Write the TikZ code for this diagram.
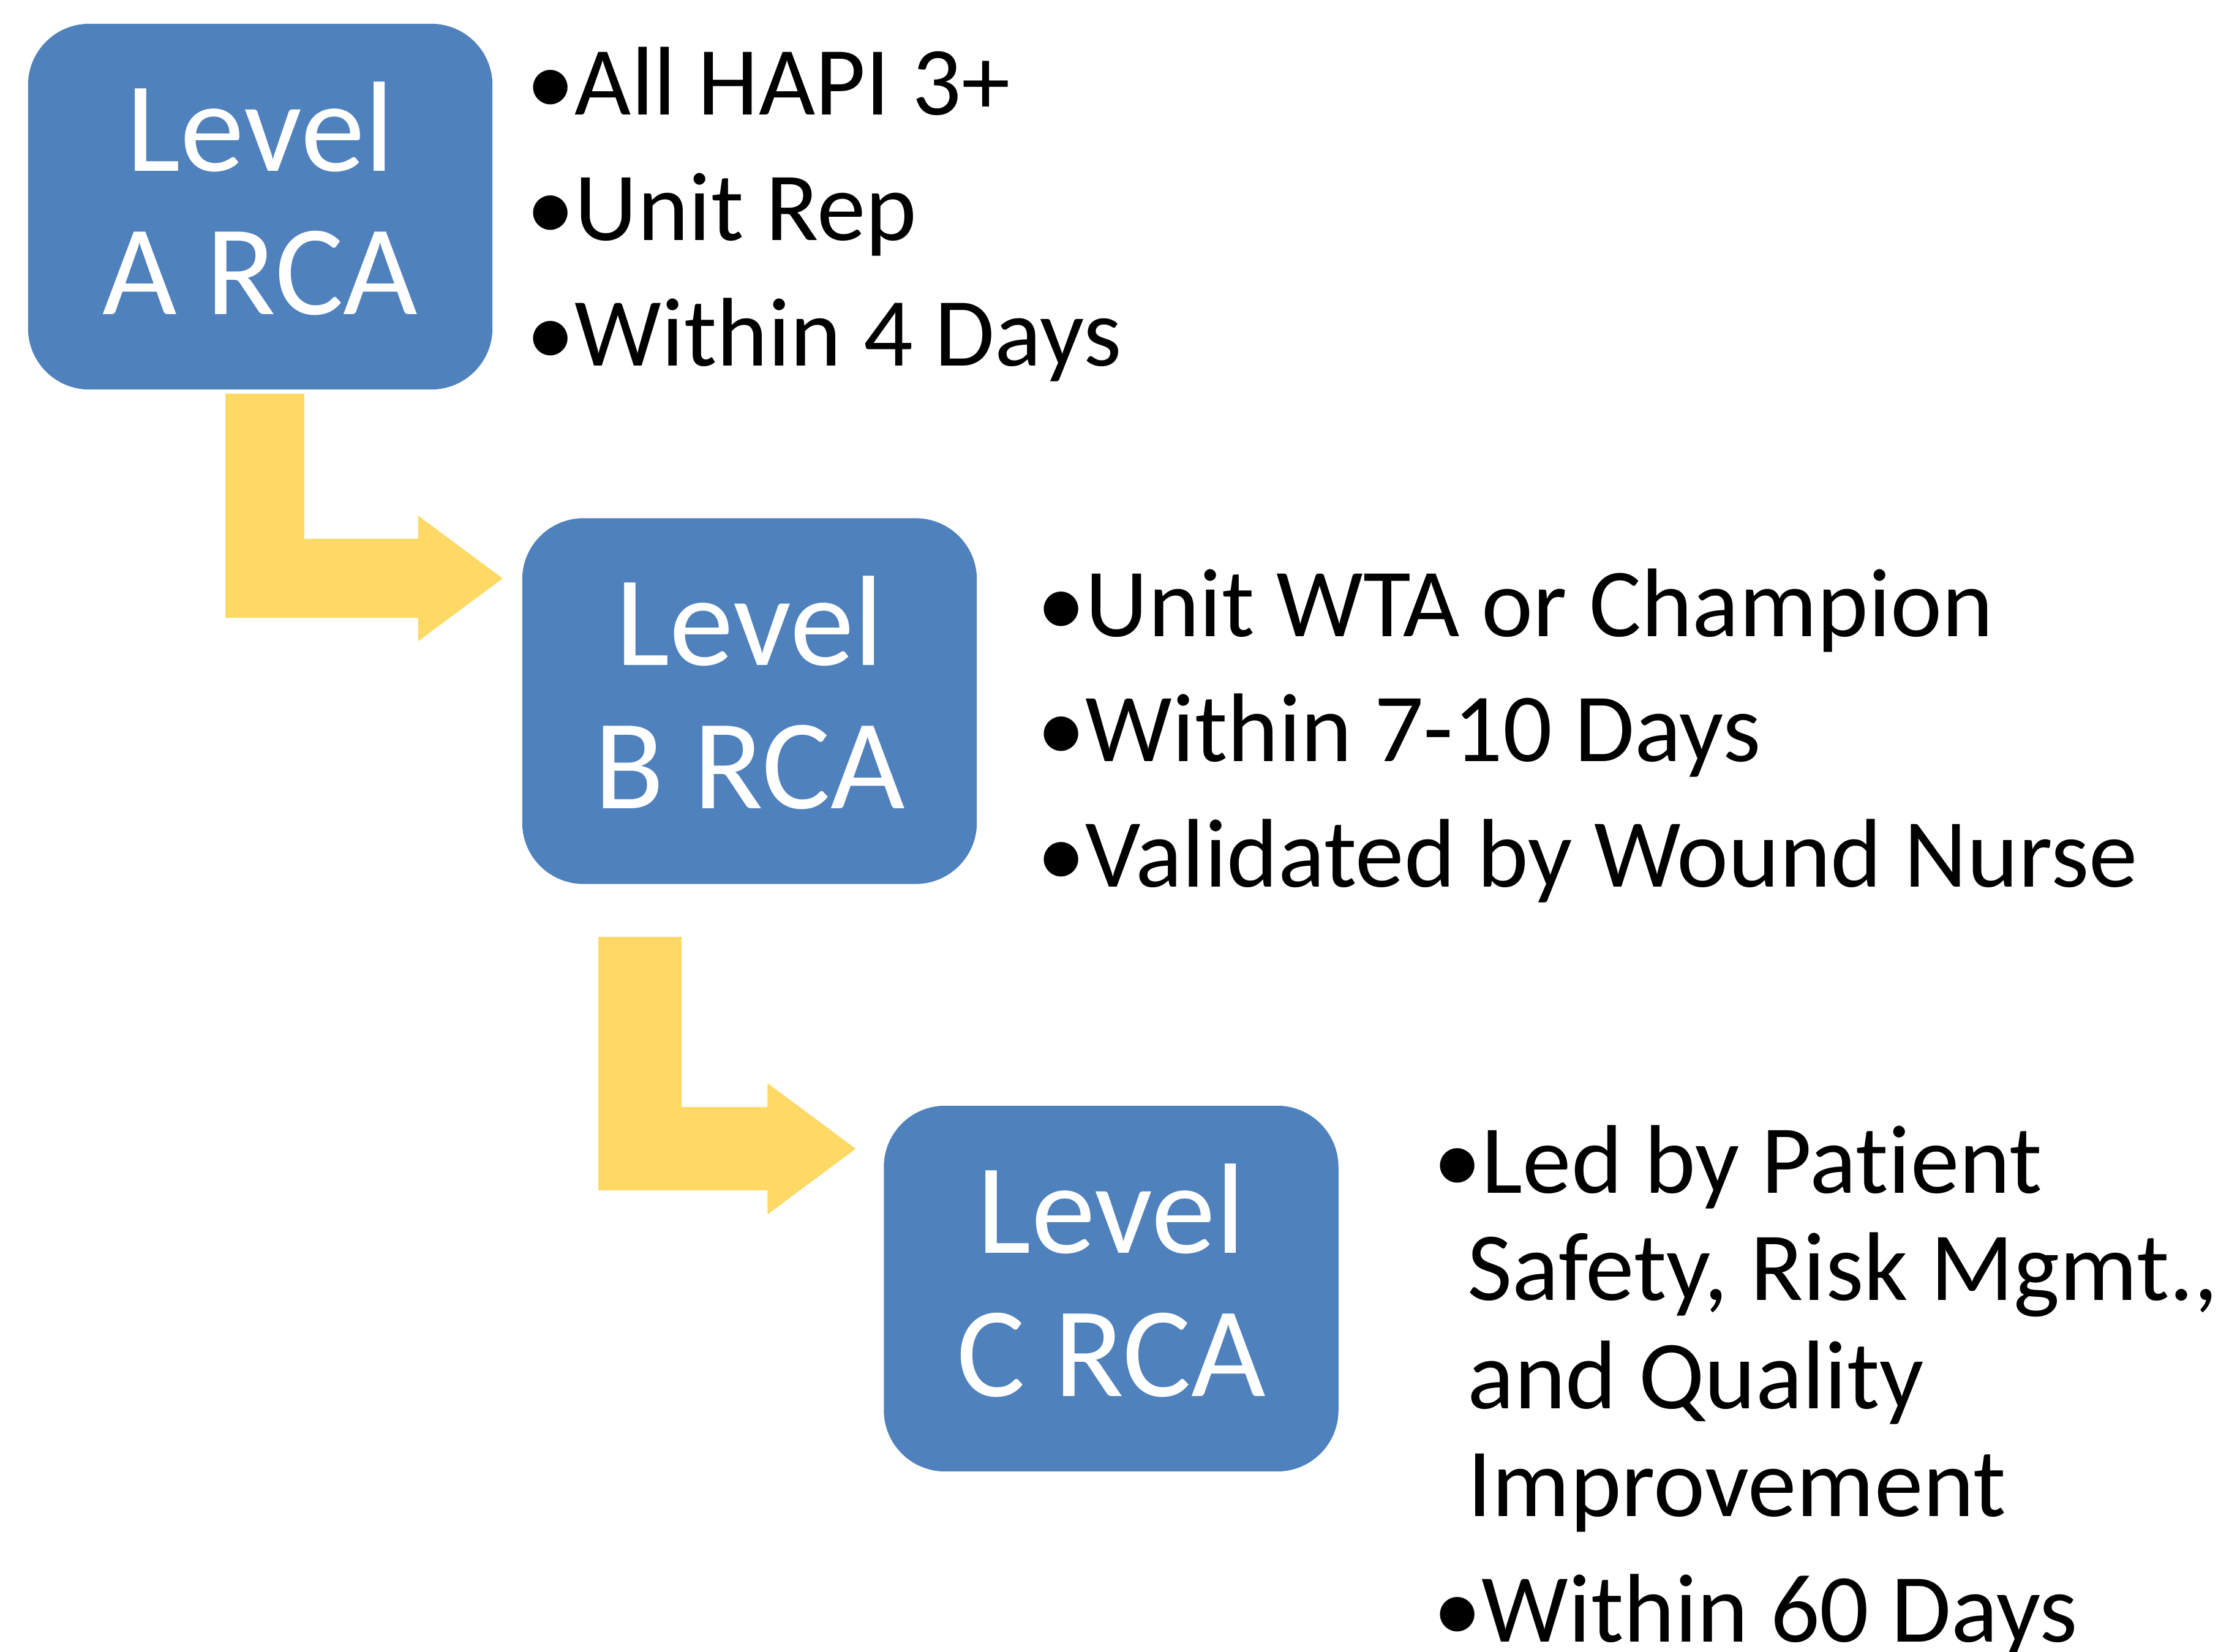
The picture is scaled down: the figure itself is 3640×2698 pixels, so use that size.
\documentclass[tikz,border=0pt]{standalone}
\usepackage{fontspec}
\setmainfont{Carlito}[Ligatures=NoCommon]
\usetikzlibrary{arrows.meta}
\definecolor{rcablue}{HTML}{4F81BD}
\definecolor{rcagold}{HTML}{FFD966}
\newcommand{\itm}{\makebox[0.79cm][l]{•}}
\tikzset{
  level/.style={fill=rcablue, text=white, rounded corners=1cm,
    minimum width=7.42cm, minimum height=5.97cm, inner sep=0pt,
    align=center, font=\fontsize{59.7}{66.6}\selectfont, text depth=0.28cm},
  item/.style={anchor=base west, inner sep=0pt, font=\fontsize{45.3}{50}\selectfont},
  flow/.style={draw=rcagold, line width=#1},
}
\begin{document}
\begin{tikzpicture}[x=0.01cm, y=-0.01cm]
  \useasboundingbox (0,0) rectangle (3640,2698);

  % Levels
  \node[level, minimum width=7.58cm] (a) at (425,337.5) {Level\\A RCA};
  \node[level] (b) at (1224,1145) {Level\\B RCA};
  \node[level] (c) at (1814.5,2104.5) {Level\\C RCA};

  % Escalation arrows
  \draw[flow=1.29cm, -{Triangle[length=1.39cm, width=1.95cm]}]
    ([xshift=0.075cm, yshift=-0.06cm]a.south) |- ([xshift=-0.30cm, yshift=-0.99cm]b.north west);
  \draw[flow=1.36cm, -{Triangle[length=1.45cm, width=2.04cm]}]
    ([xshift=1.93cm, yshift=-0.86cm]b.south west) |- ([xshift=-0.44cm, yshift=-0.71cm]c.north west);

  % Level A details
  \node[item] (a1) at (859,187.5) {\itm All HAPI 3+};
  \node[item] (a2) at (859,393) {\itm Unit Rep};
  \node[item] (a3) at (859,598) {\itm Within 4 Days};

  % Level B details
  \node[item] (b1) at (1693,1040) {\itm Unit WTA or Champion};
  \node[item] (b2) at (1693,1243) {\itm Within 7-10 Days};
  \node[item] (b3) at (1693,1448) {\itm Validated by Wound Nurse};

  % Level C details
  \node[item] (c1) at (2340,1948) {\itm Led by Patient};
  \node[item] (c2) at (2396,2123) {Safety, Risk Mgmt.,};
  \node[item] (c3) at (2396,2300) {and Quality};
  \node[item] (c4) at (2396,2476) {Improvement};
  \node[item] (c5) at (2340,2681) {\itm Within 60 Days};
\end{tikzpicture}
\end{document}
